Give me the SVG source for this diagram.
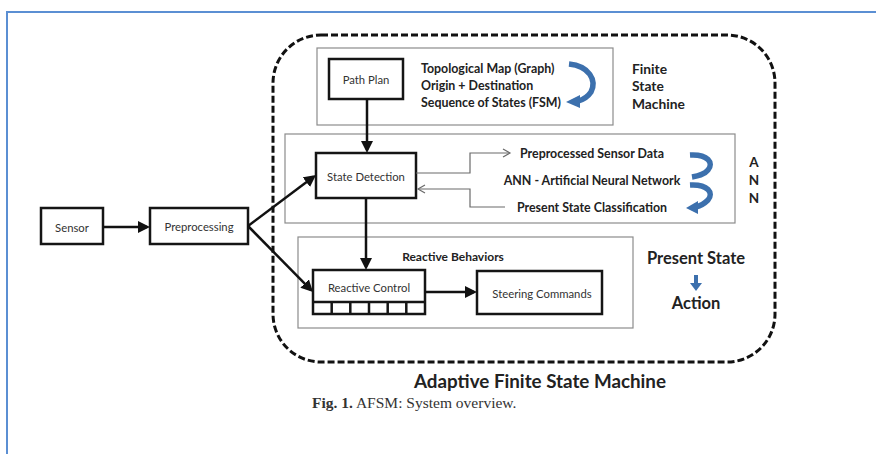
<svg xmlns="http://www.w3.org/2000/svg" width="876" height="454" viewBox="0 0 876 454">
  <style>
    .box { fill: #fff; stroke: #151515; stroke-width: 2.5; }
    .panel { fill: none; stroke: #8c8c8c; stroke-width: 1.2; }
    .lbl { font-family: Lato, "Liberation Sans", sans-serif; font-size: 11.3px; fill: #333; text-anchor: middle; dominant-baseline: central; }
    .bold { font-family: Lato, "Liberation Sans", sans-serif; font-weight: bold; fill: #222; dominant-baseline: central; }
    .flow { fill: none; stroke: #111; stroke-width: 2.5; marker-end: url(#solid); }
    .thin { fill: none; stroke: #6a6a6a; stroke-width: 1.2; marker-end: url(#open); }
    .curl { fill: none; stroke: #3c70ad; stroke-width: 5.5; stroke-linecap: butt; }
  </style>
  <defs>
    <marker id="solid" markerUnits="userSpaceOnUse" markerWidth="12" markerHeight="12" refX="9" refY="6" orient="auto">
      <path d="M0,0 L12,6 L0,12 z" fill="#111"/>
    </marker>
    <marker id="open" markerUnits="userSpaceOnUse" markerWidth="10" markerHeight="10" refX="8" refY="5" orient="auto">
      <path d="M1,1 L8,5 L1,9" fill="none" stroke="#6a6a6a" stroke-width="1.2"/>
    </marker>
  </defs>

  <!-- page frame -->
  <path d="M7,454 V12 H876" fill="none" stroke="#5b8fd3" stroke-width="2"/>

  <!-- adaptive FSM boundary -->
  <g id="afsm">
    <rect x="273" y="35" width="502" height="327" rx="48" ry="48" fill="none" stroke="#111" stroke-width="3" stroke-dasharray="7 3"/>
    <text class="bold" x="540" y="380" font-size="18.8" text-anchor="middle">Adaptive Finite State Machine</text>
  </g>

  <!-- grouping panels -->
  <g id="fsm-panel">
    <rect class="panel" x="317" y="48" width="296" height="77"/>
    <text class="bold" x="421" y="68" font-size="12.4">Topological Map (Graph)</text>
    <text class="bold" x="421" y="85" font-size="12.4">Origin + Destination</text>
    <text class="bold" x="421" y="102" font-size="12.4">Sequence of States (FSM)</text>
    <path class="curl" d="M569,64 C589,66 597,80 591,92 C587,98 582,100 578,101"/>
    <path d="M580,95 L566,102 L580,108 z" fill="#3c70ad"/>
    <text class="bold" x="632" y="68" font-size="13.8">Finite</text>
    <text class="bold" x="632" y="85" font-size="13.8">State</text>
    <text class="bold" x="632" y="103" font-size="13.8">Machine</text>
  </g>

  <g id="ann-panel">
    <rect class="panel" x="285" y="134" width="450" height="89"/>
    <text class="bold" x="592" y="153" font-size="12.4" text-anchor="middle">Preprocessed Sensor Data</text>
    <text class="bold" x="592" y="180" font-size="12.4" text-anchor="middle">ANN - Artificial Neural Network</text>
    <text class="bold" x="592" y="207" font-size="12.4" text-anchor="middle">Present State Classification</text>
    <path class="curl" d="M690,155 C708,154 714,163 708,170 C704,175 698,176 692,177"/>
    <path class="curl" d="M690,185 C708,184 714,193 708,200 C704,204 700,206 696,207"/>
    <path d="M698,201 L686,208 L698,214 z" fill="#3c70ad"/>
    <text class="bold" x="754" y="162" font-size="13.5" text-anchor="middle">A</text>
    <text class="bold" x="754" y="180" font-size="13.5" text-anchor="middle">N</text>
    <text class="bold" x="754" y="198" font-size="13.5" text-anchor="middle">N</text>
  </g>

  <g id="reactive-panel">
    <rect class="panel" x="298" y="237" width="335" height="91"/>
    <text class="bold" x="453" y="256" font-size="12" text-anchor="middle">Reactive Behaviors</text>
    <text class="bold" x="696" y="258" font-size="16.5" text-anchor="middle">Present State</text>
    <path d="M694,275 H698 V283 H702 L696,291 L690,283 H694 z" fill="#3c70ad"/>
    <text class="bold" x="696" y="303" font-size="16.5" text-anchor="middle">Action</text>
  </g>

  <!-- nodes -->
  <g id="sensor">
    <rect class="box" x="41" y="208" width="62" height="36"/>
    <text class="lbl" x="72" y="227">Sensor</text>
  </g>
  <g id="preprocessing">
    <rect class="box" x="150" y="208" width="98" height="36"/>
    <text class="lbl" x="199" y="226">Preprocessing</text>
  </g>
  <g id="path-plan">
    <rect class="box" x="329" y="59" width="74" height="40"/>
    <text class="lbl" x="366" y="79">Path Plan</text>
  </g>
  <g id="state-detection">
    <rect class="box" x="316" y="153" width="100" height="45"/>
    <text class="lbl" x="366" y="176">State Detection</text>
  </g>
  <g id="reactive-control">
    <rect class="box" x="313" y="270" width="112" height="44"/>
    <path d="M313,302 H425 M331.7,302 V314 M350.3,302 V314 M369,302 V314 M387.7,302 V314 M406.3,302 V314" stroke="#151515" stroke-width="2.5" fill="none"/>
    <text class="lbl" x="369" y="287">Reactive Control</text>
  </g>
  <g id="steering-commands">
    <rect class="box" x="477" y="271" width="125" height="43"/>
    <text class="lbl" x="542" y="293">Steering Commands</text>
  </g>

  <!-- connectors -->
  <g id="connectors">
    <path class="flow" d="M103,227 H147"/>
    <path class="flow" d="M248,226 L313.6,176.8"/>
    <path class="flow" d="M248,226 L310.9,289.9"/>
    <path class="flow" d="M367,99 V150"/>
    <path class="flow" d="M366,198 V267"/>
    <path class="flow" d="M425,292 H474"/>
    <path class="thin" d="M416,173 H470 V153 H510"/>
    <path class="thin" d="M505,207 H470 V189 H418"/>
  </g>

  <!-- caption -->
  <text x="312" y="408" font-family="'Liberation Serif', serif" font-size="15.5" fill="#333"><tspan font-weight="bold">Fig. 1.</tspan> AFSM: System overview.</text>
</svg>
